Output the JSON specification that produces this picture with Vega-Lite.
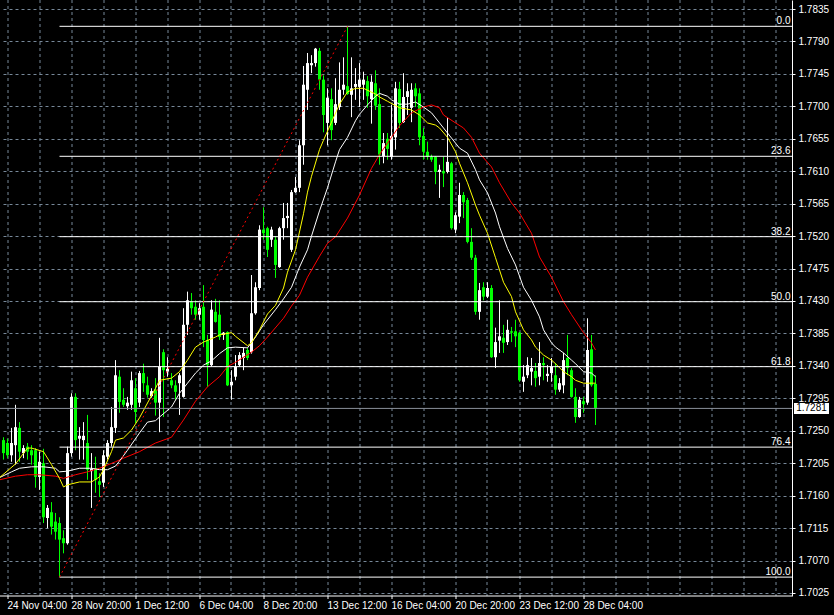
{
  "$schema": "https://vega.github.io/schema/vega-lite/v6.json",
  "width": 792,
  "height": 596,
  "autosize": {"type": "none"},
  "padding": {"left": 0, "top": 0, "right": 42, "bottom": 19},
  "background": "#000000",
  "config": {"view": {"stroke": null}, "text": {"font": "Liberation Sans"}, "scale": {"continuousPadding": 0}},
  "resolve": {"axis": {"x": "independent", "y": "independent"}},
  "datasets": {
    "candles": [
      {"i":-1,"o":1.7237,"h":1.7241,"l":1.7210,"c":1.7219,"d":"down"},
      {"i":0,"o":1.7233,"h":1.7239,"l":1.7212,"c":1.7216,"d":"down"},
      {"i":1,"o":1.7216,"h":1.7254,"l":1.7207,"c":1.7233,"d":"up"},
      {"i":2,"o":1.7230,"h":1.7286,"l":1.7203,"c":1.7255,"d":"up"},
      {"i":3,"o":1.7254,"h":1.7262,"l":1.7207,"c":1.7221,"d":"down"},
      {"i":4,"o":1.7219,"h":1.7230,"l":1.7212,"c":1.7226,"d":"up"},
      {"i":5,"o":1.7228,"h":1.7233,"l":1.7210,"c":1.7221,"d":"down"},
      {"i":6,"o":1.7223,"h":1.7230,"l":1.7203,"c":1.7216,"d":"down"},
      {"i":7,"o":1.7223,"h":1.7226,"l":1.7171,"c":1.7186,"d":"down"},
      {"i":8,"o":1.7186,"h":1.7221,"l":1.7168,"c":1.7207,"d":"up"},
      {"i":9,"o":1.7205,"h":1.7225,"l":1.7122,"c":1.7130,"d":"down"},
      {"i":10,"o":1.7129,"h":1.7147,"l":1.7115,"c":1.7143,"d":"up"},
      {"i":11,"o":1.7137,"h":1.7151,"l":1.7106,"c":1.7117,"d":"down"},
      {"i":12,"o":1.7124,"h":1.7136,"l":1.7099,"c":1.7110,"d":"down"},
      {"i":13,"o":1.7122,"h":1.7130,"l":1.7047,"c":1.7099,"d":"down"},
      {"i":14,"o":1.7101,"h":1.7112,"l":1.7080,"c":1.7094,"d":"down"},
      {"i":15,"o":1.7094,"h":1.7228,"l":1.7092,"c":1.7219,"d":"up"},
      {"i":16,"o":1.7219,"h":1.7302,"l":1.7214,"c":1.7297,"d":"up"},
      {"i":17,"o":1.7297,"h":1.7302,"l":1.7223,"c":1.7237,"d":"down"},
      {"i":18,"o":1.7239,"h":1.7255,"l":1.7210,"c":1.7243,"d":"up"},
      {"i":19,"o":1.7237,"h":1.7262,"l":1.7210,"c":1.7243,"d":"up"},
      {"i":20,"o":1.7233,"h":1.7272,"l":1.7182,"c":1.7196,"d":"down"},
      {"i":21,"o":1.7194,"h":1.7219,"l":1.7143,"c":1.7197,"d":"up"},
      {"i":22,"o":1.7198,"h":1.7214,"l":1.7164,"c":1.7182,"d":"down"},
      {"i":23,"o":1.7180,"h":1.7191,"l":1.7158,"c":1.7175,"d":"down"},
      {"i":24,"o":1.7178,"h":1.7223,"l":1.7172,"c":1.7216,"d":"up"},
      {"i":25,"o":1.7214,"h":1.7237,"l":1.7210,"c":1.7233,"d":"up"},
      {"i":26,"o":1.7233,"h":1.7283,"l":1.7228,"c":1.7255,"d":"up"},
      {"i":27,"o":1.7254,"h":1.7348,"l":1.7247,"c":1.7327,"d":"up"},
      {"i":28,"o":1.7325,"h":1.7334,"l":1.7275,"c":1.7290,"d":"down"},
      {"i":29,"o":1.7293,"h":1.7309,"l":1.7283,"c":1.7286,"d":"down"},
      {"i":30,"o":1.7284,"h":1.7297,"l":1.7279,"c":1.7289,"d":"up"},
      {"i":31,"o":1.7286,"h":1.7332,"l":1.7279,"c":1.7320,"d":"up"},
      {"i":32,"o":1.7309,"h":1.7323,"l":1.7261,"c":1.7276,"d":"down"},
      {"i":33,"o":1.7289,"h":1.7333,"l":1.7283,"c":1.7330,"d":"up"},
      {"i":34,"o":1.7330,"h":1.7343,"l":1.7304,"c":1.7316,"d":"down"},
      {"i":35,"o":1.7313,"h":1.7325,"l":1.7296,"c":1.7300,"d":"down"},
      {"i":36,"o":1.7298,"h":1.7309,"l":1.7296,"c":1.7305,"d":"up"},
      {"i":37,"o":1.7307,"h":1.7323,"l":1.7271,"c":1.7289,"d":"down"},
      {"i":38,"o":1.7289,"h":1.7379,"l":1.7248,"c":1.7339,"d":"up"},
      {"i":39,"o":1.7359,"h":1.7363,"l":1.7269,"c":1.7334,"d":"down"},
      {"i":40,"o":1.7332,"h":1.7352,"l":1.7325,"c":1.7336,"d":"up"},
      {"i":41,"o":1.7320,"h":1.7330,"l":1.7309,"c":1.7313,"d":"down"},
      {"i":42,"o":1.7313,"h":1.7320,"l":1.7293,"c":1.7304,"d":"down"},
      {"i":43,"o":1.7316,"h":1.7330,"l":1.7272,"c":1.7327,"d":"up"},
      {"i":44,"o":1.7297,"h":1.7420,"l":1.7296,"c":1.7397,"d":"up"},
      {"i":45,"o":1.7397,"h":1.7443,"l":1.7383,"c":1.7431,"d":"up"},
      {"i":46,"o":1.7429,"h":1.7441,"l":1.7411,"c":1.7420,"d":"down"},
      {"i":47,"o":1.7422,"h":1.7431,"l":1.7404,"c":1.7411,"d":"down"},
      {"i":48,"o":1.7411,"h":1.7427,"l":1.7404,"c":1.7420,"d":"up"},
      {"i":49,"o":1.7422,"h":1.7452,"l":1.7366,"c":1.7376,"d":"down"},
      {"i":50,"o":1.7376,"h":1.7383,"l":1.7311,"c":1.7341,"d":"down"},
      {"i":51,"o":1.7341,"h":1.7431,"l":1.7339,"c":1.7418,"d":"up"},
      {"i":52,"o":1.7415,"h":1.7433,"l":1.7400,"c":1.7401,"d":"down"},
      {"i":53,"o":1.7411,"h":1.7431,"l":1.7376,"c":1.7380,"d":"down"},
      {"i":54,"o":1.7383,"h":1.7387,"l":1.7376,"c":1.7386,"d":"up"},
      {"i":55,"o":1.7387,"h":1.7388,"l":1.7312,"c":1.7313,"d":"down"},
      {"i":56,"o":1.7313,"h":1.7334,"l":1.7293,"c":1.7318,"d":"up"},
      {"i":57,"o":1.7325,"h":1.7355,"l":1.7320,"c":1.7339,"d":"up"},
      {"i":58,"o":1.7341,"h":1.7359,"l":1.7339,"c":1.7355,"d":"up"},
      {"i":59,"o":1.7351,"h":1.7365,"l":1.7334,"c":1.7358,"d":"up"},
      {"i":60,"o":1.7362,"h":1.7365,"l":1.7348,"c":1.7351,"d":"down"},
      {"i":61,"o":1.7359,"h":1.7466,"l":1.7357,"c":1.7413,"d":"up"},
      {"i":62,"o":1.7413,"h":1.7456,"l":1.7411,"c":1.7449,"d":"up"},
      {"i":63,"o":1.7448,"h":1.7535,"l":1.7445,"c":1.7529,"d":"up"},
      {"i":64,"o":1.7529,"h":1.7560,"l":1.7515,"c":1.7524,"d":"down"},
      {"i":65,"o":1.7531,"h":1.7533,"l":1.7491,"c":1.7501,"d":"down"},
      {"i":66,"o":1.7515,"h":1.7533,"l":1.7505,"c":1.7529,"d":"up"},
      {"i":67,"o":1.7515,"h":1.7520,"l":1.7462,"c":1.7480,"d":"down"},
      {"i":68,"o":1.7477,"h":1.7533,"l":1.7476,"c":1.7531,"d":"up"},
      {"i":69,"o":1.7531,"h":1.7566,"l":1.7515,"c":1.7545,"d":"up"},
      {"i":70,"o":1.7545,"h":1.7566,"l":1.7531,"c":1.7548,"d":"up"},
      {"i":71,"o":1.7501,"h":1.7584,"l":1.7498,"c":1.7581,"d":"up"},
      {"i":72,"o":1.7581,"h":1.7602,"l":1.7580,"c":1.7587,"d":"up"},
      {"i":73,"o":1.7587,"h":1.7653,"l":1.7581,"c":1.7646,"d":"up"},
      {"i":74,"o":1.7646,"h":1.7756,"l":1.7619,"c":1.7730,"d":"up"},
      {"i":75,"o":1.7723,"h":1.7774,"l":1.7695,"c":1.7760,"d":"up"},
      {"i":76,"o":1.7757,"h":1.7771,"l":1.7746,"c":1.7760,"d":"up"},
      {"i":77,"o":1.7760,"h":1.7781,"l":1.7755,"c":1.7780,"d":"up"},
      {"i":78,"o":1.7777,"h":1.7781,"l":1.7723,"c":1.7737,"d":"down"},
      {"i":79,"o":1.7737,"h":1.7743,"l":1.7664,"c":1.7688,"d":"down"},
      {"i":80,"o":1.7677,"h":1.7725,"l":1.7646,"c":1.7712,"d":"up"},
      {"i":81,"o":1.7710,"h":1.7725,"l":1.7653,"c":1.7667,"d":"down"},
      {"i":82,"o":1.7677,"h":1.7739,"l":1.7674,"c":1.7703,"d":"up"},
      {"i":83,"o":1.7699,"h":1.7761,"l":1.7695,"c":1.7723,"d":"up"},
      {"i":84,"o":1.7723,"h":1.7768,"l":1.7716,"c":1.7730,"d":"up"},
      {"i":85,"o":1.7728,"h":1.7811,"l":1.7716,"c":1.7717,"d":"down"},
      {"i":86,"o":1.7716,"h":1.7768,"l":1.7685,"c":1.7725,"d":"up"},
      {"i":87,"o":1.7727,"h":1.7753,"l":1.7709,"c":1.7731,"d":"up"},
      {"i":88,"o":1.7727,"h":1.7760,"l":1.7699,"c":1.7737,"d":"up"},
      {"i":89,"o":1.7730,"h":1.7748,"l":1.7709,"c":1.7737,"d":"up"},
      {"i":90,"o":1.7735,"h":1.7742,"l":1.7698,"c":1.7714,"d":"down"},
      {"i":91,"o":1.7710,"h":1.7743,"l":1.7676,"c":1.7734,"d":"up"},
      {"i":92,"o":1.7732,"h":1.7750,"l":1.7695,"c":1.7701,"d":"down"},
      {"i":93,"o":1.7703,"h":1.7725,"l":1.7619,"c":1.7633,"d":"down"},
      {"i":94,"o":1.7631,"h":1.7663,"l":1.7621,"c":1.7649,"d":"up"},
      {"i":95,"o":1.7655,"h":1.7663,"l":1.7626,"c":1.7641,"d":"down"},
      {"i":96,"o":1.7630,"h":1.7702,"l":1.7626,"c":1.7659,"d":"up"},
      {"i":97,"o":1.7657,"h":1.7734,"l":1.7640,"c":1.7725,"d":"up"},
      {"i":98,"o":1.7724,"h":1.7734,"l":1.7670,"c":1.7677,"d":"down"},
      {"i":99,"o":1.7678,"h":1.7746,"l":1.7677,"c":1.7713,"d":"up"},
      {"i":100,"o":1.7713,"h":1.7732,"l":1.7688,"c":1.7721,"d":"up"},
      {"i":101,"o":1.7698,"h":1.7732,"l":1.7678,"c":1.7723,"d":"up"},
      {"i":102,"o":1.7725,"h":1.7732,"l":1.7699,"c":1.7714,"d":"down"},
      {"i":103,"o":1.7718,"h":1.7725,"l":1.7646,"c":1.7657,"d":"down"},
      {"i":104,"o":1.7659,"h":1.7670,"l":1.7626,"c":1.7637,"d":"down"},
      {"i":105,"o":1.7637,"h":1.7651,"l":1.7626,"c":1.7630,"d":"down"},
      {"i":106,"o":1.7630,"h":1.7633,"l":1.7623,"c":1.7626,"d":"down"},
      {"i":107,"o":1.7630,"h":1.7631,"l":1.7592,"c":1.7609,"d":"down"},
      {"i":108,"o":1.7609,"h":1.7619,"l":1.7573,"c":1.7612,"d":"up"},
      {"i":109,"o":1.7610,"h":1.7630,"l":1.7588,"c":1.7607,"d":"down"},
      {"i":110,"o":1.7609,"h":1.7684,"l":1.7607,"c":1.7623,"d":"up"},
      {"i":111,"o":1.7621,"h":1.7623,"l":1.7529,"c":1.7531,"d":"down"},
      {"i":112,"o":1.7529,"h":1.7553,"l":1.7524,"c":1.7549,"d":"up"},
      {"i":113,"o":1.7547,"h":1.7594,"l":1.7538,"c":1.7577,"d":"up"},
      {"i":114,"o":1.7577,"h":1.7581,"l":1.7545,"c":1.7567,"d":"down"},
      {"i":115,"o":1.7570,"h":1.7573,"l":1.7510,"c":1.7512,"d":"down"},
      {"i":116,"o":1.7512,"h":1.7531,"l":1.7487,"c":1.7490,"d":"down"},
      {"i":117,"o":1.7490,"h":1.7494,"l":1.7411,"c":1.7415,"d":"down"},
      {"i":118,"o":1.7415,"h":1.7455,"l":1.7404,"c":1.7445,"d":"up"},
      {"i":119,"o":1.7449,"h":1.7456,"l":1.7431,"c":1.7436,"d":"down"},
      {"i":120,"o":1.7436,"h":1.7456,"l":1.7434,"c":1.7448,"d":"up"},
      {"i":121,"o":1.7448,"h":1.7452,"l":1.7351,"c":1.7352,"d":"down"},
      {"i":122,"o":1.7352,"h":1.7393,"l":1.7337,"c":1.7373,"d":"up"},
      {"i":123,"o":1.7375,"h":1.7431,"l":1.7358,"c":1.7381,"d":"up"},
      {"i":124,"o":1.7379,"h":1.7397,"l":1.7358,"c":1.7372,"d":"down"},
      {"i":125,"o":1.7373,"h":1.7404,"l":1.7369,"c":1.7390,"d":"up"},
      {"i":126,"o":1.7388,"h":1.7394,"l":1.7373,"c":1.7386,"d":"down"},
      {"i":127,"o":1.7388,"h":1.7404,"l":1.7366,"c":1.7381,"d":"down"},
      {"i":128,"o":1.7386,"h":1.7387,"l":1.7318,"c":1.7320,"d":"down"},
      {"i":129,"o":1.7318,"h":1.7341,"l":1.7304,"c":1.7325,"d":"up"},
      {"i":130,"o":1.7327,"h":1.7352,"l":1.7323,"c":1.7341,"d":"up"},
      {"i":131,"o":1.7332,"h":1.7351,"l":1.7313,"c":1.7337,"d":"up"},
      {"i":132,"o":1.7333,"h":1.7344,"l":1.7311,"c":1.7323,"d":"down"},
      {"i":133,"o":1.7325,"h":1.7373,"l":1.7313,"c":1.7344,"d":"up"},
      {"i":134,"o":1.7344,"h":1.7352,"l":1.7320,"c":1.7341,"d":"down"},
      {"i":135,"o":1.7326,"h":1.7341,"l":1.7318,"c":1.7329,"d":"up"},
      {"i":136,"o":1.7330,"h":1.7351,"l":1.7318,"c":1.7339,"d":"up"},
      {"i":137,"o":1.7327,"h":1.7344,"l":1.7300,"c":1.7307,"d":"down"},
      {"i":138,"o":1.7307,"h":1.7323,"l":1.7304,"c":1.7316,"d":"up"},
      {"i":139,"o":1.7313,"h":1.7358,"l":1.7302,"c":1.7348,"d":"up"},
      {"i":140,"o":1.7351,"h":1.7383,"l":1.7327,"c":1.7337,"d":"down"},
      {"i":141,"o":1.7334,"h":1.7337,"l":1.7296,"c":1.7297,"d":"down"},
      {"i":142,"o":1.7297,"h":1.7309,"l":1.7261,"c":1.7269,"d":"down"},
      {"i":143,"o":1.7269,"h":1.7297,"l":1.7268,"c":1.7293,"d":"up"},
      {"i":144,"o":1.7291,"h":1.7297,"l":1.7275,"c":1.7287,"d":"down"},
      {"i":145,"o":1.7289,"h":1.7406,"l":1.7286,"c":1.7362,"d":"up"},
      {"i":146,"o":1.7363,"h":1.7383,"l":1.7311,"c":1.7313,"d":"down"},
      {"i":147,"o":1.7315,"h":1.7327,"l":1.7258,"c":1.7281,"d":"down"}
    ],
    "maFast": [
      {"i":-2,"v":1.7185},{"i":2,"v":1.7204},{"i":5,"v":1.7226},{"i":6,"v":1.7226},{"i":9,"v":1.7221},{"i":11,"v":1.7203},{"i":13,"v":1.7184},{"i":14,"v":1.7172},{"i":15,"v":1.7175},{"i":18,"v":1.7179},{"i":21,"v":1.7179},{"i":23,"v":1.7186},{"i":24,"v":1.7196},{"i":26,"v":1.7221},{"i":27,"v":1.7237},{"i":29,"v":1.7240},{"i":31,"v":1.7251},{"i":33,"v":1.7268},{"i":37,"v":1.7309},{"i":38,"v":1.7320},{"i":41,"v":1.7323},{"i":43,"v":1.7332},{"i":45,"v":1.7348},{"i":47,"v":1.7366},{"i":49,"v":1.7373},{"i":52,"v":1.7380},{"i":53,"v":1.7383},{"i":56,"v":1.7386},{"i":57,"v":1.7381},{"i":60,"v":1.7368},{"i":61,"v":1.7372},{"i":63,"v":1.7390},{"i":65,"v":1.7412},{"i":67,"v":1.7424},{"i":69,"v":1.7448},{"i":70,"v":1.7470},{"i":72,"v":1.7501},{"i":74,"v":1.7551},{"i":75,"v":1.7581},{"i":76,"v":1.7603},{"i":78,"v":1.7640},{"i":79,"v":1.7653},{"i":81,"v":1.7678},{"i":83,"v":1.7703},{"i":85,"v":1.7720},{"i":87,"v":1.7725},{"i":89,"v":1.7725},{"i":92,"v":1.7717},{"i":93,"v":1.7713},{"i":95,"v":1.7707},{"i":97,"v":1.7701},{"i":98,"v":1.7698},{"i":101,"v":1.7695},{"i":103,"v":1.7688},{"i":105,"v":1.7677},{"i":107,"v":1.7674},{"i":108,"v":1.7670},{"i":110,"v":1.7657},{"i":112,"v":1.7637},{"i":113,"v":1.7621},{"i":115,"v":1.7594},{"i":117,"v":1.7563},{"i":118,"v":1.7549},{"i":120,"v":1.7524},{"i":122,"v":1.7490},{"i":124,"v":1.7456},{"i":126,"v":1.7436},{"i":127,"v":1.7415},{"i":129,"v":1.7390},{"i":131,"v":1.7376},{"i":132,"v":1.7366},{"i":134,"v":1.7355},{"i":136,"v":1.7348},{"i":137,"v":1.7343},{"i":139,"v":1.7332},{"i":141,"v":1.7325},{"i":142,"v":1.7320},{"i":144,"v":1.7316},{"i":146,"v":1.7316},{"i":147,"v":1.7316}
    ],
    "maMid": [
      {"i":-2,"v":1.7185},{"i":1,"v":1.7193},{"i":3,"v":1.7198},{"i":6,"v":1.7200},{"i":9,"v":1.7200},{"i":12,"v":1.7198},{"i":13,"v":1.7193},{"i":15,"v":1.7194},{"i":18,"v":1.7198},{"i":21,"v":1.7198},{"i":23,"v":1.7196},{"i":25,"v":1.7196},{"i":27,"v":1.7201},{"i":28,"v":1.7208},{"i":30,"v":1.7223},{"i":33,"v":1.7247},{"i":35,"v":1.7262},{"i":37,"v":1.7264},{"i":38,"v":1.7269},{"i":41,"v":1.7283},{"i":43,"v":1.7302},{"i":45,"v":1.7316},{"i":47,"v":1.7330},{"i":49,"v":1.7341},{"i":51,"v":1.7347},{"i":53,"v":1.7357},{"i":55,"v":1.7365},{"i":57,"v":1.7366},{"i":60,"v":1.7365},{"i":62,"v":1.7380},{"i":64,"v":1.7397},{"i":67,"v":1.7418},{"i":69,"v":1.7433},{"i":71,"v":1.7449},{"i":73,"v":1.7477},{"i":75,"v":1.7501},{"i":76,"v":1.7520},{"i":78,"v":1.7555},{"i":80,"v":1.7587},{"i":82,"v":1.7623},{"i":83,"v":1.7640},{"i":85,"v":1.7657},{"i":87,"v":1.7680},{"i":88,"v":1.7689},{"i":90,"v":1.7702},{"i":92,"v":1.7714},{"i":93,"v":1.7718},{"i":95,"v":1.7714},{"i":96,"v":1.7709},{"i":98,"v":1.7703},{"i":100,"v":1.7703},{"i":102,"v":1.7706},{"i":104,"v":1.7699},{"i":106,"v":1.7691},{"i":108,"v":1.7677},{"i":111,"v":1.7656},{"i":113,"v":1.7642},{"i":115,"v":1.7635},{"i":117,"v":1.7612},{"i":118,"v":1.7598},{"i":120,"v":1.7580},{"i":122,"v":1.7552},{"i":123,"v":1.7533},{"i":125,"v":1.7503},{"i":127,"v":1.7480},{"i":129,"v":1.7449},{"i":131,"v":1.7431},{"i":133,"v":1.7408},{"i":134,"v":1.7390},{"i":136,"v":1.7372},{"i":137,"v":1.7366},{"i":139,"v":1.7358},{"i":141,"v":1.7348},{"i":142,"v":1.7343},{"i":144,"v":1.7332},{"i":146,"v":1.7330},{"i":147,"v":1.7325}
    ],
    "maSlow": [
      {"i":-2,"v":1.7182},{"i":2,"v":1.7187},{"i":5,"v":1.7189},{"i":8,"v":1.7189},{"i":12,"v":1.7187},{"i":14,"v":1.7184},{"i":17,"v":1.7189},{"i":20,"v":1.7193},{"i":23,"v":1.7198},{"i":27,"v":1.7207},{"i":29,"v":1.7212},{"i":33,"v":1.7221},{"i":37,"v":1.7233},{"i":41,"v":1.7241},{"i":44,"v":1.7265},{"i":47,"v":1.7291},{"i":50,"v":1.7311},{"i":53,"v":1.7325},{"i":55,"v":1.7339},{"i":57,"v":1.7345},{"i":61,"v":1.7359},{"i":63,"v":1.7368},{"i":65,"v":1.7380},{"i":69,"v":1.7406},{"i":71,"v":1.7423},{"i":73,"v":1.7438},{"i":75,"v":1.7463},{"i":78,"v":1.7492},{"i":80,"v":1.7510},{"i":82,"v":1.7519},{"i":85,"v":1.7545},{"i":88,"v":1.7577},{"i":91,"v":1.7614},{"i":93,"v":1.7633},{"i":96,"v":1.7657},{"i":98,"v":1.7673},{"i":101,"v":1.7691},{"i":104,"v":1.7699},{"i":106,"v":1.7702},{"i":108,"v":1.7698},{"i":109,"v":1.7688},{"i":112,"v":1.7677},{"i":114,"v":1.7670},{"i":116,"v":1.7657},{"i":118,"v":1.7635},{"i":121,"v":1.7616},{"i":123,"v":1.7594},{"i":126,"v":1.7566},{"i":128,"v":1.7552},{"i":131,"v":1.7524},{"i":133,"v":1.7491},{"i":136,"v":1.7463},{"i":139,"v":1.7429},{"i":141,"v":1.7411},{"i":144,"v":1.7386},{"i":146,"v":1.7372},{"i":147,"v":1.7362}
    ],
    "fib": [
      {"level":"0.0","p":1.7811},
      {"level":"23.6","p":1.76307},
      {"level":"38.2","p":1.75192},
      {"level":"50.0","p":1.7429},
      {"level":"61.8","p":1.73389},
      {"level":"76.4","p":1.72273},
      {"level":"100.0","p":1.7047}
    ],
    "trend": [{"i":13,"p":1.7047,"i2":85,"p2":1.7811}],
    "last": [{"p":1.7281,"label":"1.7281"}]
  },
  "layer": [
    {
      "data": {"name": "candles"},
      "mark": {"type": "rule", "strokeWidth": 1},
      "encoding": {
        "x": {
          "field": "i", "type": "quantitative",
          "scale": {"domain": [-1.875, 196.125], "nice": false, "zero": false, "padding": 0},
          "axis": {
            "title": null, "orient": "bottom", "translate": 0,
            "values": [0,8,16,24,32,40,48,56,64,72,80,88,96,104,112,120,128,136,144,152,160,168,176,184,192],
            "grid": true, "gridColor": "#778899", "gridDash": [3,3], "gridWidth": 1,
            "domain": true, "domainColor": "#ffffff", "domainWidth": 1,
            "ticks": true, "tickSize": 3, "tickColor": "#ffffff",
            "tickOpacity": {"condition": {"test": "datum.value % 16 == 0 && datum.value <= 144", "value": 1}, "value": 0},
            "labelExpr": "datum.value % 16 == 0 && datum.value <= 144 ? ['24 Nov 04:00','28 Nov 20:00','1 Dec 12:00','6 Dec 04:00','8 Dec 20:00','13 Dec 12:00','16 Dec 04:00','20 Dec 20:00','23 Dec 12:00','28 Dec 04:00'][datum.value / 16] : ''",
            "labelAlign": "left", "labelColor": "#ffffff", "labelFont": "Liberation Sans", "labelFontSize": 10,
            "labelPadding": 2, "labelOverlap": false, "labelFlush": false, "labelBound": false
          }
        },
        "y": {
          "field": "l", "type": "quantitative",
          "scale": {"domain": [1.70208, 1.78475], "nice": false, "zero": false, "padding": 0},
          "axis": {
            "title": null, "orient": "right",
            "values": [1.7025,1.707,1.7115,1.716,1.7205,1.725,1.7295,1.734,1.7385,1.743,1.7475,1.752,1.7565,1.761,1.7655,1.77,1.7745,1.779,1.7835],
            "format": ".4f",
            "grid": true, "gridColor": "#778899", "gridDash": [3,3], "gridWidth": 1,
            "domain": true, "domainColor": "#ffffff", "domainWidth": 1,
            "ticks": true, "tickSize": 3, "tickColor": "#ffffff",
            "labelColor": "#ffffff", "labelFont": "Liberation Sans", "labelFontSize": 10,
            "labelPadding": 3, "labelOverlap": false, "labelFlush": false, "labelBound": false
          }
        },
        "y2": {"field": "h"},
        "color": {"field": "d", "type": "nominal", "scale": {"domain": ["up","down"], "range": ["#ffffff","#00ff00"]}, "legend": null}
      }
    },
    {
      "data": {"name": "candles"},
      "mark": {"type": "bar", "size": 3},
      "encoding": {
        "x": {"field": "i", "type": "quantitative", "axis": null},
        "y": {"field": "o", "type": "quantitative", "axis": null},
        "y2": {"field": "c"},
        "color": {"field": "d", "type": "nominal", "legend": null}
      }
    },
    {
      "data": {"name": "maSlow"},
      "mark": {"type": "line", "color": "#ff0000", "strokeWidth": 1, "clip": true},
      "encoding": {
        "x": {"field": "i", "type": "quantitative", "axis": null},
        "y": {"field": "v", "type": "quantitative", "axis": null}
      }
    },
    {
      "data": {"name": "maMid"},
      "mark": {"type": "line", "color": "#ffffff", "strokeWidth": 1, "clip": true},
      "encoding": {
        "x": {"field": "i", "type": "quantitative", "axis": null},
        "y": {"field": "v", "type": "quantitative", "axis": null}
      }
    },
    {
      "data": {"name": "maFast"},
      "mark": {"type": "line", "color": "#ffff00", "strokeWidth": 1, "clip": true},
      "encoding": {
        "x": {"field": "i", "type": "quantitative", "axis": null},
        "y": {"field": "v", "type": "quantitative", "axis": null}
      }
    },
    {
      "data": {"name": "fib"},
      "mark": {"type": "rule", "color": "#ffffff", "strokeWidth": 1},
      "encoding": {
        "x": {"datum": 13, "type": "quantitative", "axis": null},
        "x2": {"datum": 196.125},
        "y": {"field": "p", "type": "quantitative", "axis": null}
      }
    },
    {
      "data": {"name": "fib"},
      "mark": {"type": "text", "color": "#ffffff", "align": "right", "baseline": "alphabetic", "dy": -2, "font": "Liberation Sans", "fontSize": 10},
      "encoding": {
        "x": {"datum": 195.75, "type": "quantitative", "axis": null},
        "y": {"field": "p", "type": "quantitative", "axis": null},
        "text": {"field": "level"}
      }
    },
    {
      "data": {"name": "trend"},
      "mark": {"type": "rule", "color": "#ff0000", "strokeWidth": 1, "strokeDash": [2,3]},
      "encoding": {
        "x": {"field": "i", "type": "quantitative", "axis": null},
        "y": {"field": "p", "type": "quantitative", "axis": null},
        "x2": {"field": "i2"},
        "y2": {"field": "p2"}
      }
    },
    {
      "data": {"name": "last"},
      "mark": {"type": "rule", "color": "#8a8f99", "strokeWidth": 1},
      "encoding": {
        "y": {"field": "p", "type": "quantitative", "axis": null}
      }
    },
    {
      "data": {"name": "last"},
      "mark": {"type": "bar", "size": 11, "color": "#ffffff", "orient": "horizontal"},
      "encoding": {
        "x": {"datum": 196.625, "type": "quantitative", "axis": null},
        "x2": {"datum": 205.375},
        "y": {"field": "p", "type": "quantitative", "axis": null}
      }
    },
    {
      "data": {"name": "last"},
      "mark": {"type": "text", "color": "#000000", "align": "center", "baseline": "middle", "font": "Liberation Sans", "fontSize": 10},
      "encoding": {
        "x": {"datum": 201, "type": "quantitative", "axis": null},
        "y": {"field": "p", "type": "quantitative", "axis": null},
        "text": {"field": "label"}
      }
    }
  ]
}
